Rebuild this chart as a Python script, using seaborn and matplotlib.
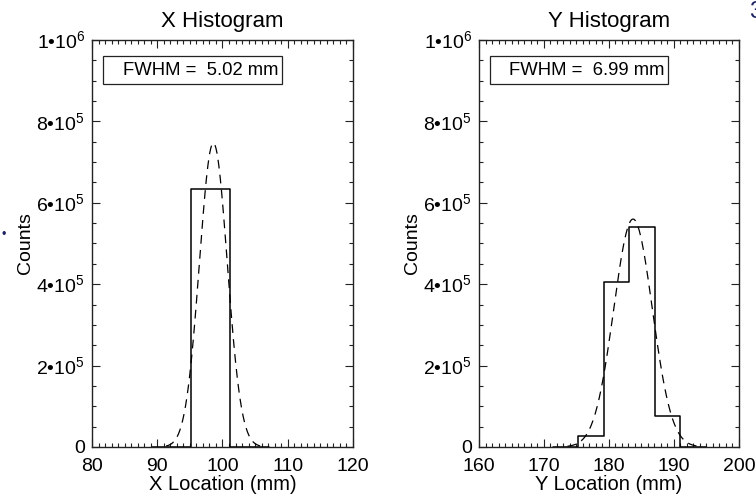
import numpy as np
import pandas as pd
import matplotlib
matplotlib.use("Agg")
import matplotlib.pyplot as plt
import seaborn as sns
from matplotlib.ticker import MultipleLocator, FixedLocator
from matplotlib.patches import Rectangle

# ---------------- data ----------------
x_edges = [89.2, 95.2, 101.2, 107.2]
x_counts = [0, 633000, 0]
x_fit_amp = 747000
x_fit_center = 98.6
x_fwhm = 5.02

y_edges = [171.4, 175.3, 179.25, 183.15, 187.1, 191.0, 194.9]
y_counts = [0, 28000, 406000, 541000, 75000, 0]
y_fit_amp = 560000
y_fit_center = 183.7
y_fwhm = 6.99

y_ticks = [0, 200000, 400000, 600000, 800000, 1000000]
y_ticklabels = ["0", "2\u202210$^{\\mathregular{5}}$", "4\u202210$^{\\mathregular{5}}$",
                "6\u202210$^{\\mathregular{5}}$", "8\u202210$^{\\mathregular{5}}$",
                "1\u202210$^{\\mathregular{6}}$"]
x_ticks_left = [80, 90, 100, 110, 120]
x_ticks_right = [160, 170, 180, 190, 200]
titles = ["X Histogram", "Y Histogram"]
xlabels = ["X Location (mm)", "Y Location (mm)"]
fwhm_texts = ["FWHM =  5.02 mm", "FWHM =  6.99 mm"]

# ---------------- style ----------------
sns.set_theme(style="white")
plt.rcParams["font.family"] = ["Liberation Sans", "DejaVu Sans"]
plt.rcParams["mathtext.fontset"] = "custom"
plt.rcParams["mathtext.rm"] = "Liberation Sans"
plt.rcParams["axes.edgecolor"] = "#222222"
plt.rcParams["axes.linewidth"] = 1.0

fig = plt.figure(figsize=(7.56, 4.95), dpi=100)
ax1 = fig.add_axes([0.1217, 0.0970, 0.3452, 0.8222])
ax2 = fig.add_axes([0.6336, 0.0970, 0.3439, 0.8222])


def gauss_curve(amp, center, fwhm, nsig=3.4):
    sigma = fwhm / (2 * np.sqrt(2 * np.log(2)))
    xs = np.linspace(center - nsig * sigma, center + nsig * sigma, 200)
    return xs, amp * np.exp(-0.5 * ((xs - center) / sigma) ** 2)


def draw(ax, edges, counts, amp, center, fwhm, xticks, title, xlabel, ftext):
    centers = [(edges[i] + edges[i + 1]) / 2 for i in range(len(counts))]
    df = pd.DataFrame({"loc": centers, "w": counts})
    sns.histplot(data=df, x="loc", weights="w", bins=edges, element="step",
                 fill=False, color="black", linewidth=1.1, ax=ax)
    gx, gy = gauss_curve(amp, center, fwhm)
    sns.lineplot(x=gx, y=gy, color="black", linewidth=0.9,
                 linestyle=(0, (7, 5)), ax=ax)
    ax.set_xlim(xticks[0], xticks[-1])
    ax.set_ylim(0, 1000000)
    ax.xaxis.set_major_locator(FixedLocator(xticks))
    ax.set_xticklabels([str(t) for t in xticks])
    ax.xaxis.set_minor_locator(MultipleLocator(1))
    ax.yaxis.set_major_locator(FixedLocator(y_ticks))
    ax.set_yticklabels(y_ticklabels)
    ax.yaxis.set_minor_locator(MultipleLocator(50000))
    ax.tick_params(which="both", direction="in", top=True, right=True,
                   bottom=True, left=True, color="#222222", width=0.8,
                   labelsize=14, labelcolor="black")
    ax.tick_params(which="major", length=6)
    ax.tick_params(which="minor", length=3)
    ax.tick_params(axis="x", which="major", pad=8)
    ax.tick_params(axis="y", which="major", pad=5)
    for lab in ax.get_yticklabels():
        if lab.get_text() == "0":
            lab.set_y(12000)
    ax.set_title(title, fontsize=16, pad=9, color="black")
    ax.set_xlabel(xlabel, fontsize=14.5, labelpad=0, color="black")
    ax.set_ylabel("Counts", fontsize=14, labelpad=2, color="black")
    ax.add_patch(Rectangle((0.042, 0.892), 0.686, 0.069, transform=ax.transAxes,
                           fill=False, edgecolor="#222222", linewidth=0.9))
    ax.text(0.415, 0.926, ftext, transform=ax.transAxes, ha="center", va="center",
            fontsize=13.3, color="black")
    for s in ax.spines.values():
        s.set_visible(True)


draw(ax1, x_edges, x_counts, x_fit_amp, x_fit_center, x_fwhm,
     x_ticks_left, titles[0], xlabels[0], fwhm_texts[0])
draw(ax2, y_edges, y_counts, y_fit_amp, y_fit_center, y_fwhm,
     x_ticks_right, titles[1], xlabels[1], fwhm_texts[1])

# stray marks present in the reference crop
fig.text(0.991, 0.975, "3", fontsize=17, color="#1b2160", ha="left", va="center")
fig.text(0.002, 0.525, "\u2022", fontsize=9, color="#1b2160", ha="left", va="center")

fig.savefig("out.png", dpi=100)
